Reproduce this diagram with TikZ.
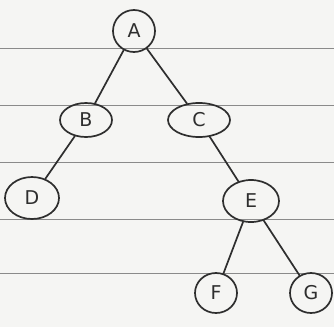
\documentclass[tikz,border=0pt]{standalone}
\usepackage{fontspec}
\setmainfont{DejaVu Sans}
\usetikzlibrary{shapes.geometric}
\definecolor{paper}{HTML}{F5F5F3}
\definecolor{rule}{HTML}{8A8A8A}
\definecolor{ink}{HTML}{2E2E2E}
\begin{document}
\begin{tikzpicture}[x=1pt,y=-1pt,
  tnode/.style={ellipse,draw=ink,line width=1.7pt,inner sep=0pt,text=ink,
    font=\fontsize{19}{19}\selectfont},
  edge/.style={draw=ink,line width=1.7pt,line cap=round},
  ruling/.style={draw=rule,line width=0.6pt}]
\fill[paper] (0,0) rectangle (334,327);
\useasboundingbox (0,0) rectangle (334,327);
\foreach \yy in {48,105,162,219,273} \draw[ruling] (0,\yy) -- (334,\yy);
\node[tnode,minimum width=42pt,minimum height=42pt] (A) at (134,31) {A};
\node[tnode,minimum width=52pt,minimum height=34pt] (B) at (86,120) {B};
\node[tnode,minimum width=62pt,minimum height=34pt] (C) at (199,120) {C};
\node[tnode,minimum width=54pt,minimum height=42pt] (D) at (32,198) {D};
\node[tnode,minimum width=56pt,minimum height=42pt] (E) at (251,201) {E};
\node[tnode,minimum width=42pt,minimum height=40pt] (F) at (216,293) {F};
\node[tnode,minimum width=42pt,minimum height=40pt] (G) at (311,293) {G};
\draw[edge] (A) -- (B);
\draw[edge] (A) -- (C);
\draw[edge] (B) -- (D);
\draw[edge] (C) -- (E);
\draw[edge] (E) -- (F);
\draw[edge] (E) -- (G);
\end{tikzpicture}
\end{document}
